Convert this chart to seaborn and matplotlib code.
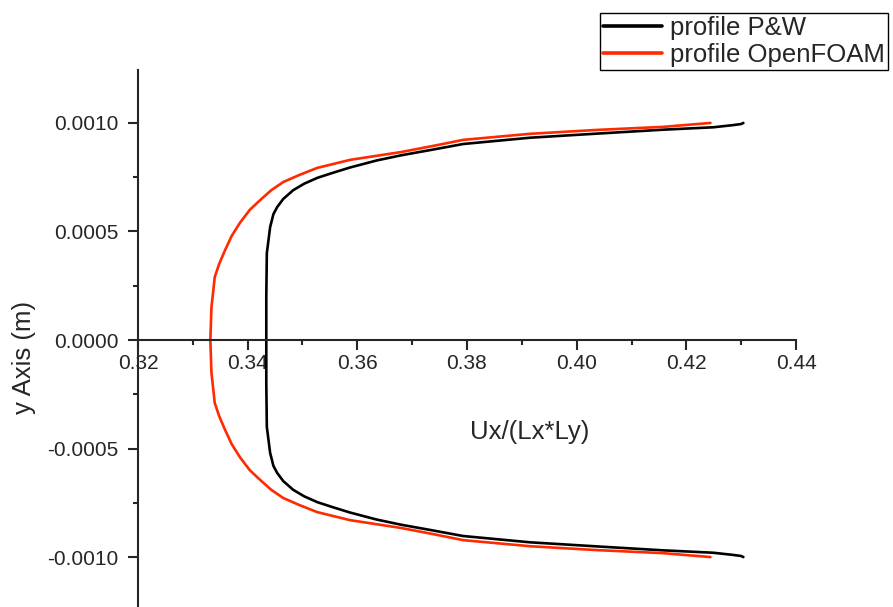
import numpy as np
import pandas as pd
import matplotlib
matplotlib.use("Agg")
import matplotlib.pyplot as plt
import matplotlib.ticker as mticker
import seaborn as sns

# profile values (y in m, Ux/(Lx*Ly) on x)
y_pw = [-0.00100, -0.000995, -0.00099, -0.000980, -0.000969, -0.000951, -0.000932, -0.000903,
        -0.000876, -0.000851, -0.000827, -0.000795, -0.00077, -0.000747, -0.00072, -0.00069,
        -0.00065, -0.000613, -0.00058, -0.00052, -0.00040, -0.00020, 0.0,
        0.00020, 0.00040, 0.00052, 0.00058, 0.000613, 0.00065, 0.00069, 0.00072,
        0.000747, 0.00077, 0.000795, 0.000827, 0.000851, 0.000876, 0.000903, 0.000932,
        0.000951, 0.000969, 0.000980, 0.00099, 0.000995, 0.00100]
x_pw = [0.4304, 0.4300, 0.4285, 0.4249, 0.4158, 0.4038, 0.3915, 0.3793,
        0.3735, 0.3680, 0.3635, 0.3587, 0.3555, 0.3527, 0.3503, 0.3483,
        0.3465, 0.3454, 0.3447, 0.3441, 0.3435, 0.3434, 0.3434,
        0.3434, 0.3435, 0.3441, 0.3447, 0.3454, 0.3465, 0.3483, 0.3503,
        0.3527, 0.3555, 0.3587, 0.3635, 0.3680, 0.3735, 0.3793, 0.3915,
        0.4038, 0.4158, 0.4249, 0.4285, 0.4300, 0.4304]

y_of = [-0.00100, -0.000982, -0.000968, -0.00095, -0.000922, -0.000895, -0.000866, -0.00083,
        -0.000793, -0.00076, -0.000728, -0.00069, -0.000645, -0.00060, -0.00054, -0.00048,
        -0.000415, -0.00035, -0.00029, -0.00015, 0.0,
        0.00015, 0.00029, 0.00035, 0.000415, 0.00048, 0.00054, 0.00060, 0.000645,
        0.00069, 0.000728, 0.00076, 0.000793, 0.00083, 0.000866, 0.000895, 0.000922,
        0.00095, 0.000968, 0.000982, 0.00100]
x_of = [0.4244, 0.4158, 0.4038, 0.3915, 0.3793, 0.3740, 0.3680, 0.3587,
        0.3527, 0.3494, 0.3465, 0.3443, 0.3423, 0.3404, 0.3386, 0.3371,
        0.3359, 0.3348, 0.3340, 0.3334, 0.3332,
        0.3334, 0.3340, 0.3348, 0.3359, 0.3371, 0.3386, 0.3404, 0.3423,
        0.3443, 0.3465, 0.3494, 0.3527, 0.3587, 0.3680, 0.3740, 0.3793,
        0.3915, 0.4038, 0.4158, 0.4244]

df = pd.concat([
    pd.DataFrame({"x": x_pw, "y": y_pw, "profile": "profile P&W"}),
    pd.DataFrame({"x": x_of, "y": y_of, "profile": "profile OpenFOAM"}),
])

sns.set_style("ticks")
plt.rcParams["font.family"] = ["Liberation Sans", "DejaVu Sans"]
plt.rcParams["lines.solid_capstyle"] = "round"
plt.rcParams["lines.solid_joinstyle"] = "round"

fig = plt.figure(figsize=(8.93, 6.07), dpi=100)
ax = fig.add_axes([0.1545, 0.0, 0.7369, 0.8847])

sns.lineplot(data=df, x="x", y="y", hue="profile", sort=False, estimator=None,
             palette={"profile P&W": "black", "profile OpenFOAM": "#ff2a00"},
             linewidth=1.9, ax=ax, legend=False)

ax.set_xlim(0.32, 0.44)
ax.set_ylim(-0.00123, 0.001244)

# axes crossing at y = 0, left spine at x = 0.32
ax.spines["bottom"].set_position(("data", 0))
ax.spines["top"].set_visible(False)
ax.spines["right"].set_visible(False)
for s in ("left", "bottom"):
    ax.spines[s].set_linewidth(1.5)

ax.xaxis.set_major_locator(mticker.MultipleLocator(0.02))
ax.xaxis.set_minor_locator(mticker.MultipleLocator(0.01))
ax.yaxis.set_major_locator(mticker.MultipleLocator(0.0005))
ax.yaxis.set_minor_locator(mticker.MultipleLocator(0.00025))
ax.xaxis.set_major_formatter(mticker.FormatStrFormatter("%.2f"))
ax.yaxis.set_major_formatter(mticker.FormatStrFormatter("%.4f"))
ax.tick_params(which="major", length=7.2, width=1.5, labelsize=15, direction="out")
ax.tick_params(which="minor", length=3.6, width=1.5, direction="out")
ax.tick_params(axis="x", pad=3)
ax.tick_params(axis="y", pad=7)

ax.set_xlabel("Ux/(Lx*Ly)", fontsize=18.5)
ax.xaxis.label.set_va("center")
ax.xaxis.set_label_coords(0.596, 0.325)
ax.set_ylabel("y Axis (m)", fontsize=18.5)
ax.yaxis.label.set_va("center")
ax.yaxis.set_label_coords(-0.173, 0.465)

handles = [plt.Line2D([], [], color="black", lw=2.6),
           plt.Line2D([], [], color="#ff2a00", lw=2.6)]
leg = fig.legend(handles, ["profile P&W", "profile OpenFOAM"], loc="upper right",
                 bbox_to_anchor=(888 / 893, 1 - 13 / 607), fontsize=18.5,
                 frameon=True, fancybox=False, framealpha=1, edgecolor="black",
                 handlelength=2.3, handletextpad=0.3, borderpad=0.12,
                 labelspacing=0.1, borderaxespad=0)
leg.get_frame().set_linewidth(1.0)

fig.savefig("out.png", dpi=100)
